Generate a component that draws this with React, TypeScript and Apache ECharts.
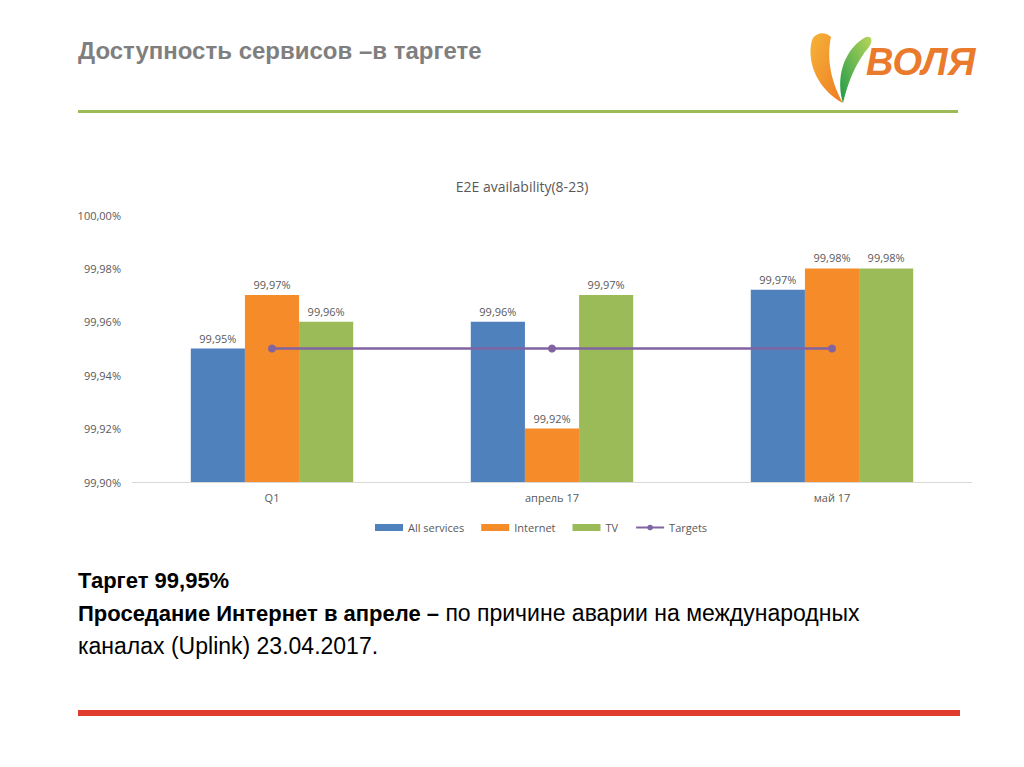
import React, { useEffect, useRef } from "react";
import * as echarts from "echarts";

const categories = ["Q1", "апрель 17", "май 17"];
const allServices = [99.95, 99.96, 99.972];
const internet = [99.97, 99.92, 99.98];
const tv = [99.96, 99.97, 99.98];
const targets = [99.95, 99.95, 99.95];
const yTicks = { min: 99.9, max: 100, interval: 0.02 };

const fmt = (v: number) => v.toFixed(2).replace(".", ",") + "%";

echarts.graphic.registerShape(
  "leafOrange",
  echarts.graphic.extendPath(
    "M812,40 C806,62 818,90 843,103 C832,84 826,60 831,37 C826,31 815,32 812,40 Z",
    {}
  )
);
echarts.graphic.registerShape(
  "leafGreen",
  echarts.graphic.extendPath(
    "M843,103 C836,80 842,52 864,38 C871,34 874,40 869,47 C856,62 848,82 843,103 Z",
    {}
  )
);

export default function App() {
  const ref = useRef<HTMLDivElement>(null);
  useEffect(() => {
    const chart = echarts.init(ref.current!, null, { renderer: "svg" });
    const chartFont = "'Open Sans', 'Noto Sans', sans-serif";
    const slideFont = "'Liberation Sans', sans-serif";
    const label = {
      show: true,
      position: "top" as const,
      color: "#595959",
      fontSize: 11,
      fontFamily: chartFont,
      formatter: (p: any) => fmt(p.value),
    };
    chart.setOption({
      animation: false,
      backgroundColor: "#ffffff",
      textStyle: { fontFamily: chartFont },
      grid: { left: 132, right: 52, top: 215, bottom: 285, containLabel: false },
      legend: {
        left: 370,
        top: 517,
        itemWidth: 28,
        itemHeight: 7,
        itemGap: 17,
        textStyle: { color: "#595959", fontSize: 11, fontFamily: chartFont },
        data: [
          { name: "All services", icon: "rect" },
          { name: "Internet", icon: "rect" },
          { name: "TV", icon: "rect" },
          { name: "Targets" },
        ],
      },
      xAxis: {
        type: "category",
        data: categories,
        axisLine: { show: true, lineStyle: { color: "#D9D9D9" } },
        axisTick: { show: false },
        axisLabel: { color: "#595959", fontSize: 11, margin: 10 },
      },
      yAxis: {
        type: "value",
        min: yTicks.min,
        max: yTicks.max,
        interval: yTicks.interval,
        splitLine: { show: false },
        axisLine: { show: false },
        axisTick: { show: false },
        axisLabel: {
          color: "#595959",
          fontSize: 11,
          margin: 11,
          formatter: (v: number) => fmt(v),
        },
      },
      series: [
        {
          name: "All services",
          type: "bar",
          data: allServices,
          barGap: "0%",
          barCategoryGap: "42%",
          itemStyle: { color: "#4F81BD" },
          label,
        },
        {
          name: "Internet",
          type: "bar",
          data: internet,
          itemStyle: { color: "#F68B2A" },
          label,
        },
        {
          name: "TV",
          type: "bar",
          data: tv,
          itemStyle: { color: "#9BBB59" },
          label,
        },
        {
          name: "Targets",
          type: "line",
          data: targets,
          symbol: "circle",
          symbolSize: 8,
          lineStyle: { color: "#8064A2", width: 2.5 },
          itemStyle: { color: "#8064A2" },
          z: 5,
        },
      ],
      graphic: [
        {
          type: "text",
          x: 78,
          y: 50,
          style: {
            text: "Доступность сервисов –в таргете",
            fill: "#7F7F7F",
            font: `bold 24px ${slideFont}`,
            textVerticalAlign: "middle",
          },
        },
        {
          type: "rect",
          shape: { x: 78, y: 110, width: 880, height: 3 },
          style: { fill: "#9BBB59" },
        },
        {
          type: "leafOrange",
          x: 0,
          y: 0,
          style: {
            fill: new echarts.graphic.LinearGradient(0, 0, 1, 1, [
              { offset: 0, color: "#F6B43A" },
              { offset: 1, color: "#EE7A22" },
            ]),
          },
        },
        {
          type: "leafGreen",
          x: 0,
          y: 0,
          style: {
            fill: new echarts.graphic.LinearGradient(1, 0, 0, 1, [
              { offset: 0, color: "#B9D65A" },
              { offset: 1, color: "#1E9A49" },
            ]),
          },
        },
        {
          type: "text",
          x: 866,
          y: 62,
          style: {
            text: "ВОЛЯ",
            fill: "#EA7A2C",
            font: `italic bold 38px 'Liberation Sans', sans-serif`,
            textVerticalAlign: "middle",
          },
        },
        {
          type: "text",
          x: 522,
          y: 186,
          style: {
            text: "E2E availability(8-23)",
            fill: "#595959",
            font: `14px ${chartFont}`,
            textAlign: "center",
            textVerticalAlign: "middle",
          },
        },
        {
          type: "text",
          x: 78,
          y: 580,
          style: {
            text: "Таргет 99,95%",
            fill: "#000000",
            font: `bold 22px ${slideFont}`,
            textVerticalAlign: "middle",
          },
        },
        {
          type: "text",
          x: 78,
          y: 613,
          style: {
            text: "{b|Проседание Интернет в апреле –} по причине аварии на международных",
            fill: "#000000",
            font: `23px ${slideFont}`,
            textVerticalAlign: "middle",
            rich: {
              b: { font: `bold 22px ${slideFont}`, fill: "#000000" },
            },
          },
        },
        {
          type: "text",
          x: 78,
          y: 646,
          style: {
            text: "каналах (Uplink) 23.04.2017.",
            fill: "#000000",
            font: `23px ${slideFont}`,
            textVerticalAlign: "middle",
          },
        },
        {
          type: "rect",
          shape: { x: 78, y: 710, width: 882, height: 6 },
          style: { fill: "#E03C2E" },
        },
      ],
    });
    return () => chart.dispose();
  }, []);
  return (
    <div
      ref={ref}
      style={{ position: "fixed", left: 0, top: 0, width: 1024, height: 767 }}
    />
  );
}
